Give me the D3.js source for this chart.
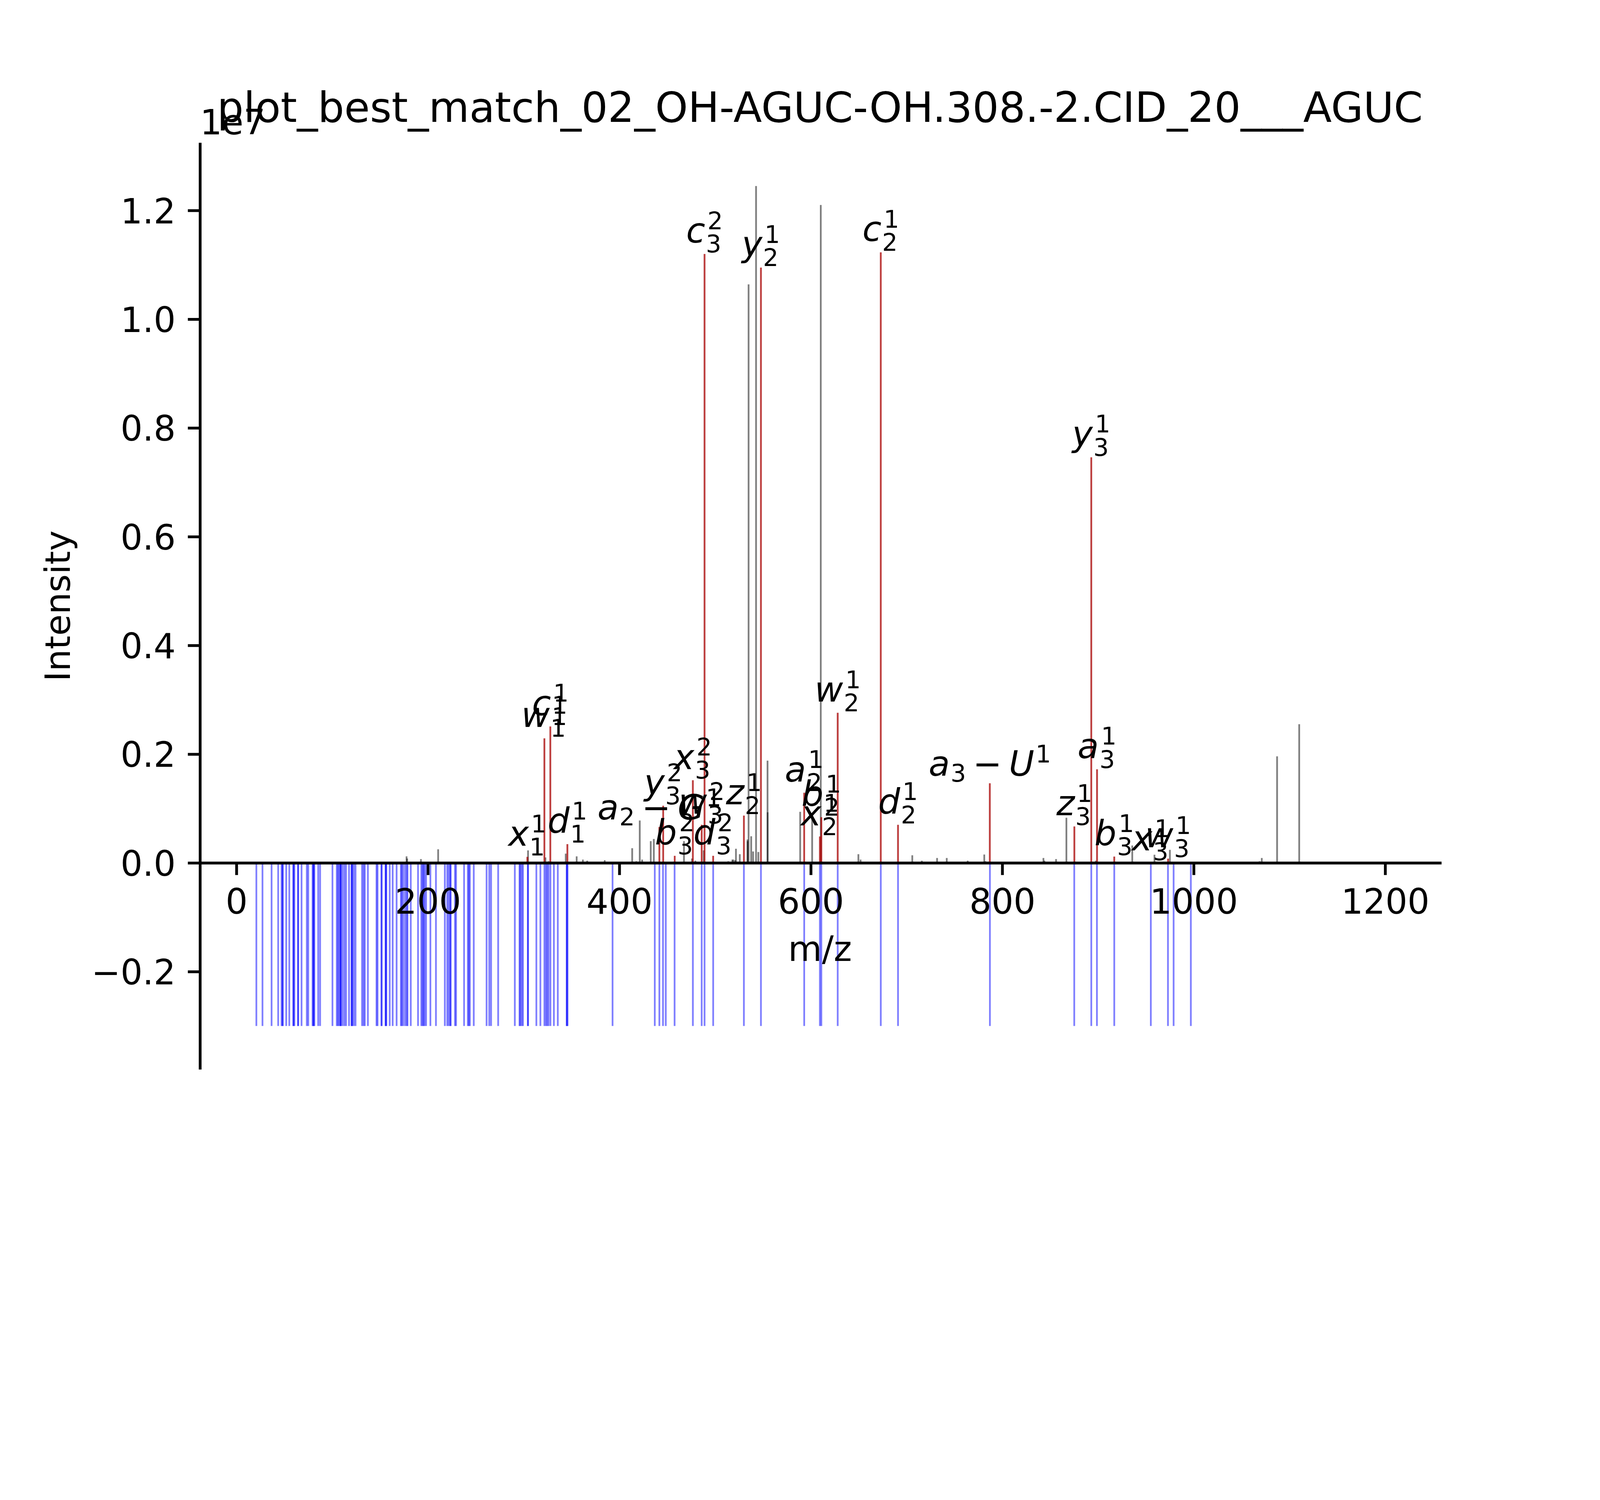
<!DOCTYPE html>
<html>
<head>
<meta charset="utf-8">
<script src="https://cdn.jsdelivr.net/npm/d3@7"></script>
<style>
  html, body { margin: 0; padding: 0; background: #fff; overflow: hidden; }
  #chart { display: block; width: 100vw; height: 75vw; }
  text { font-family: "DejaVu Sans", sans-serif; }
</style>
</head>
<body>
<svg id="chart" viewBox="0 0 5120 3840" preserveAspectRatio="xMinYMin meet"></svg>
<script>
const title = "plot_best_match_02_OH-AGUC-OH.308.-2.CID_20___AGUC";

// whole spectrum, unmatched peaks (m/z, intensity in 1e6)
const peakMz = [177.7, 178.3, 192.7, 210.7, 272.9, 286.7, 304.6, 322.8, 326.0, 344.0, 355.4, 361.9, 366.4, 384.7,
  413.4, 417.7, 421.3, 423.8, 432.8, 436.0, 467.5, 475.9, 479.4, 488.2, 513.8, 518.0, 519.0, 521.0, 521.8, 525.8,
  533.9, 534.0, 535.0, 537.7, 539.7, 542.8, 545.2, 554.8, 554.9, 588.9, 601.4, 610.4, 649.7, 652.0, 706.0, 716.0,
  731.9, 742.0, 763.9, 769.2, 781.2, 782.4, 843.0, 844.0, 856.2, 867.0, 897.8, 935.8, 959.0, 975.1, 1007.0,
  1068.8, 1071.1, 1087.1, 1092.1, 1110.2, 1198.4];
const peakInt = [0.12, 0.08, 0.07, 0.25, 0.01, 0.02, 0.23, 0.10, 0.03, 0.17, 0.12, 0.06, 0.04, 0.05,
  0.27, 0.03, 0.78, 0.06, 0.40, 0.44, 0.40, 0.08, 0.04, 0.23, 0.03, 0.06, 0.06, 0.05, 0.26, 0.16,
  0.43, 0.40, 10.64, 0.49, 0.21, 12.45, 0.20, 1.88, 0.93, 0.94, 0.90, 12.10, 0.16, 0.06, 0.14, 0.04,
  0.09, 0.09, 0.04, 0.02, 0.154, 0.03, 0.09, 0.04, 0.07, 0.83, 0.04, 0.32, 0.15, 0.24, 0.02,
  0.03, 0.09, 1.96, 0.02, 2.55, 0.01];

// matched peaks
const matchMz = [303.9, 321.7, 327.9, 345.7, 441.8, 445.8, 457.8, 476.8, 486.0, 489.0, 498.0, 530.1, 547.9,
  593.1, 609.5, 611.0, 628.1, 673.1, 691.1, 787.0, 875.3, 893.0, 899.0, 917.0, 955.2, 973.2];
const matchInt = [0.11, 2.29, 2.51, 0.345, 0.66, 1.05, 0.13, 1.52, 0.70, 11.20, 0.13, 0.87, 10.95,
  1.29, 0.485, 0.84, 2.76, 11.23, 0.70, 1.464, 0.67, 7.46, 1.72, 0.116, 0.02, 0.077];
const matchLabel = ["x_1^1", "w_1^1", "c_1^1", "d_1^1", "a_2-G^1", "y_3^2", "b_3^2", "x_3^2", "w_3^2", "c_3^2",
  "d_3^2", "z_2^1", "y_2^1", "a_2^1", "x_2^1", "b_2^1", "w_2^1", "c_2^1", "d_2^1", "a_3-U^1", "z_3^1", "y_3^1",
  "a_3^1", "b_3^1", "x_3^1", "w_3^1"];

// theoretical fragments, drawn downwards
const theoMz = [20.8, 27.2, 36.7, 43.6, 47.1, 48.2, 48.4, 52.0, 55.2, 59.4, 59.6, 60.5, 64.3, 64.5, 68.0, 73.5,
  75.0, 79.5, 80.4, 80.6, 81.4, 85.4, 87.4, 100.3, 104.8, 106.0, 107.1, 108.6, 108.8, 109.1, 110.9, 112.8, 114.5,
  117.6, 120.2, 120.6, 121.0, 122.6, 124.4, 131.2, 132.8, 134.1, 137.3, 146.3, 147.4, 151.5, 151.7, 155.8, 156.0,
  156.6, 160.1, 163.2, 167.3, 171.8, 172.7, 174.1, 176.1, 177.8, 178.7, 182.1, 189.7, 193.1, 194.4, 195.4, 196.5,
  198.1, 202.6, 208.4, 217.7, 220.2, 221.8, 223.5, 223.7, 228.3, 229.4, 237.8, 241.7, 242.8, 243.8, 247.9, 261.3,
  264.1, 266.0, 273.4, 290.8, 295.7, 296.5, 298.0, 299.3, 304.4, 304.6, 313.3, 317.5, 321.7, 323.3, 324.6, 326.0,
  328.0, 331.6, 335.7, 345.0, 345.2, 345.9, 392.9, 437.0, 441.8, 445.6, 448.5, 457.7, 476.8, 486.0, 489.0, 498.0,
  530.1, 547.9, 593.1, 609.5, 611.0, 628.1, 673.1, 691.1, 787.1, 875.2, 893.0, 898.9, 917.0, 955.2, 973.1, 979.0,
  997.0];
const theoDepth = -3.0;

const xTicks = [0, 200, 400, 600, 800, 1000, 1200];
const yTicks = [-2, 0, 2, 4, 6, 8, 10, 12];   // in 1e6, shown in 1e7

// figure geometry (6.4x4.8in at 800 dpi)
const pt = 800 / 72;
const ax = { left: 640, right: 4608, top: 460.8, bottom: 3417.6 };
const fs = 10 * pt;
const lw = 0.5 * pt;

const svg = d3.select("#chart");

const allMz = peakMz.concat(matchMz, theoMz);
const xMin = d3.min(allMz), xMax = d3.max(allMz);
const xPad = (xMax - xMin) * 0.05;
const x = d3.scaleLinear().domain([xMin - xPad, xMax + xPad]).range([ax.left, ax.right]);

const yMin = theoDepth, yMax = d3.max(peakInt.concat(matchInt));
const yPad = (yMax - yMin) * 0.05;
const y = d3.scaleLinear().domain([yMin - yPad, yMax + yPad]).range([ax.bottom, ax.top]);

// gray: whole spectrum (matched peaks included)
const spectrum = peakMz.map((m, i) => ({ mz: m, v: peakInt[i] }))
  .concat(matchMz.map((m, i) => ({ mz: m, v: matchInt[i] })));

svg.append("g").selectAll("line").data(spectrum).join("line")
    .attr("x1", d => x(d.mz)).attr("x2", d => x(d.mz))
    .attr("y1", y(0)).attr("y2", d => y(d.v))
    .attr("stroke", "black").attr("stroke-opacity", 0.5).attr("stroke-width", lw);

const matched = matchMz.map((m, i) => ({ mz: m, v: matchInt[i], label: matchLabel[i] }));

svg.append("g").selectAll("line").data(matched).join("line")
    .attr("x1", d => x(d.mz)).attr("x2", d => x(d.mz))
    .attr("y1", y(0)).attr("y2", d => y(d.v))
    .attr("stroke", "red").attr("stroke-opacity", 0.5).attr("stroke-width", lw);

svg.append("g").selectAll("line").data(theoMz).join("line")
    .attr("x1", d => x(d)).attr("x2", d => x(d))
    .attr("y1", y(0)).attr("y2", y(theoDepth))
    .attr("stroke", "blue").attr("stroke-opacity", 0.5).attr("stroke-width", lw);

// axes
const fmtY = d3.format(".1f");
const yAxis = svg.append("g")
    .attr("transform", `translate(${ax.left},0)`)
    .call(d3.axisLeft(y).tickValues(yTicks).tickFormat(d => fmtY(d / 10))
      .tickSize(3.5 * pt).tickPadding(3.5 * pt).tickSizeOuter(0));
const xAxis = svg.append("g")
    .attr("transform", `translate(0,${y(0)})`)
    .call(d3.axisBottom(x).tickValues(xTicks).tickFormat(d3.format("d"))
      .tickSize(3.5 * pt).tickPadding(3.5 * pt).tickSizeOuter(0));

[xAxis, yAxis].forEach(g => {
  g.attr("font-family", "DejaVu Sans").attr("font-size", fs);
  g.selectAll("path.domain").attr("stroke", "black").attr("stroke-width", 0.8 * pt).attr("stroke-linecap", "square");
  g.selectAll(".tick line").attr("stroke", "black").attr("stroke-width", 0.8 * pt);
  g.selectAll(".tick text").attr("fill", "black");
});
yAxis.selectAll(".tick text").attr("dy", "0.3645em");
xAxis.selectAll(".tick text").attr("dy", "0.76em");

// titles and labels
svg.append("text")
    .attr("x", (ax.left + ax.right) / 2).attr("y", ax.top - 6 * pt - 4)
    .attr("text-anchor", "middle").attr("font-size", 12 * pt)
    .text(title);

svg.append("text")
    .attr("x", ax.left).attr("y", 430)
    .attr("font-size", fs)
    .text("1e7");

svg.append("text")
    .attr("transform", `translate(224,${(ax.top + ax.bottom) / 2}) rotate(-90)`)
    .attr("text-anchor", "middle").attr("font-size", fs)
    .text("Intensity");

svg.append("text")
    .attr("x", (ax.left + ax.right) / 2).attr("y", 3075)
    .attr("text-anchor", "middle").attr("font-size", fs)
    .text("m/z");

// annotation labels, mathtext style: italic letters, sub/superscript digits
const subFs = fs * 0.7;

function parseLabel(s) {
  const atoms = [];
  let i = 0;
  while (i < s.length) {
    const ch = s[i];
    if (ch === "-") { atoms.push({ kind: "op", t: "\u2212" }); i++; }
    else if (ch === "_" || ch === "^") {
      const last = atoms[atoms.length - 1];
      if (ch === "_") last.sub = s[i + 1]; else last.sup = s[i + 1];
      i += 2;
    } else { atoms.push({ kind: "sym", t: ch }); i++; }
  }
  return atoms;
}

const labelLayer = svg.append("g");

matched.forEach(d => {
  const atoms = parseLabel(d.label);
  const g = labelLayer.append("g");
  let cx = 0;
  let drop = 0;
  atoms.forEach(a => {
    if (a.kind === "op") {
      cx += 22;
      const t = g.append("text").attr("x", cx).attr("y", 0).attr("font-size", fs).text(a.t);
      cx += t.node().getComputedTextLength() + 22;
      return;
    }
    const t = g.append("text").attr("x", cx).attr("y", 0).attr("font-size", fs)
        .attr("font-style", "italic").text(a.t);
    cx += t.node().getComputedTextLength() + 2;
    const both = a.sub && a.sup;
    let adv = 0;
    if (a.sub) {
      const sh = both ? 31 : 19;
      drop = Math.max(drop, sh);
      const s = g.append("text").attr("x", cx).attr("y", sh).attr("font-size", subFs).text(a.sub);
      adv = Math.max(adv, s.node().getComputedTextLength());
    }
    if (a.sup) {
      const s = g.append("text").attr("x", cx + (both ? 5 : 2)).attr("y", -43).attr("font-size", subFs).text(a.sup);
      adv = Math.max(adv, s.node().getComputedTextLength() + (both ? 5 : 2));
    }
    cx += adv;
  });
  const tx = x(d.mz) - cx / 2;
  const ty = y(d.v) - 5 - drop;
  g.attr("transform", `translate(${tx},${ty})`);
});
</script>
</body>
</html>
